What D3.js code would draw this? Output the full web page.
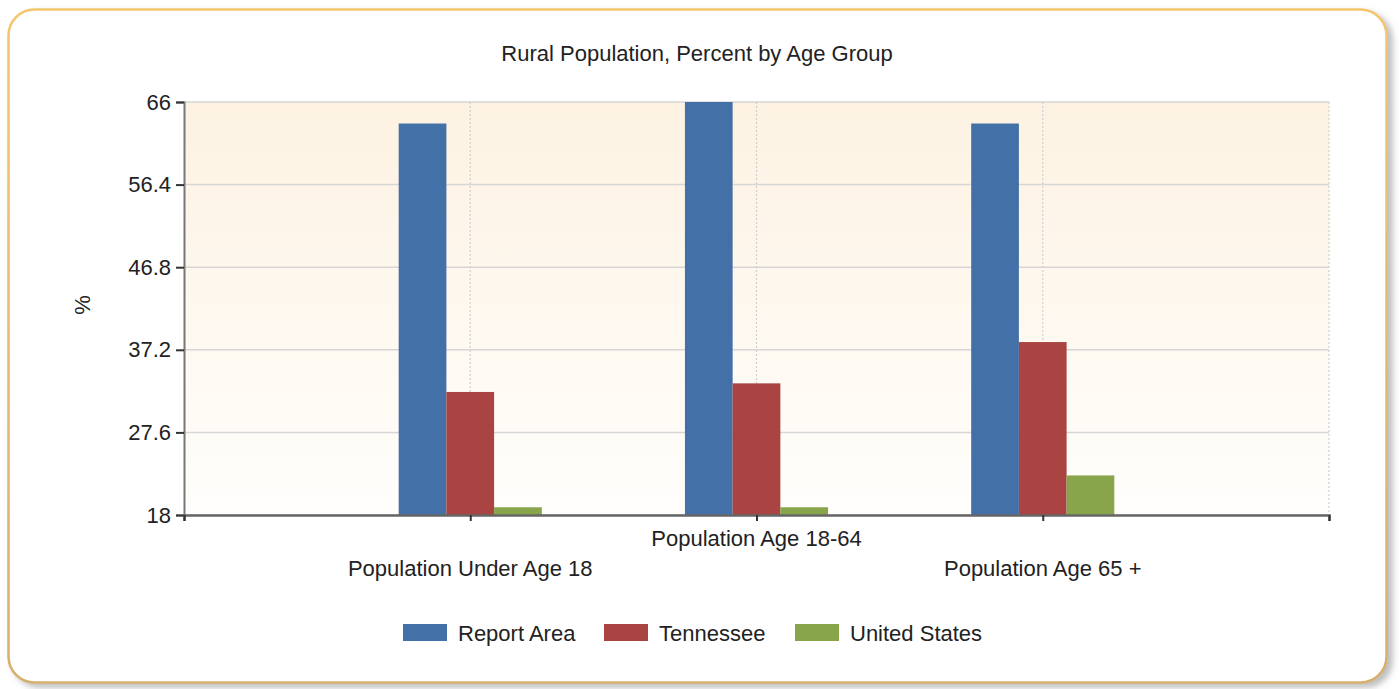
<!DOCTYPE html>
<html>
<head>
<meta charset="utf-8">
<script src="https://cdn.jsdelivr.net/npm/d3@7"></script>
<style>
  html, body { margin: 0; padding: 0; background: #ffffff; }
  svg { display: block; font-family: "Liberation Sans", Arial, sans-serif; }
</style>
</head>
<body>
<svg id="chart" width="1399" height="689"></svg>
<script>
const title = "Rural Population, Percent by Age Group";
const categories = ["Population Under Age 18", "Population Age 18-64", "Population Age 65 +"];
const seriesNames = ["Report Area", "Tennessee", "United States"];
const reportArea = [63.5, 66.0, 63.5];
const tennessee = [32.3, 33.3, 38.1];
const unitedStates = [18.9, 18.9, 22.6];
const yTicks = [18, 27.6, 37.2, 46.8, 56.4, 66];
const colors = ["#4470a8", "#a94442", "#88a54c"];
const yLabel = "%";

const seriesValues = [reportArea, tennessee, unitedStates];

const svg = d3.select("#chart");
const FS = 22;

// defs
const defs = svg.append("defs");
const bg = defs.append("linearGradient").attr("id", "plotBg").attr("x1", 0).attr("y1", 0).attr("x2", 0).attr("y2", 1);
bg.append("stop").attr("offset", "0%").attr("stop-color", "#fdf2e2");
bg.append("stop").attr("offset", "100%").attr("stop-color", "#fffefc");
const bd = defs.append("linearGradient").attr("id", "borderGrad").attr("x1", 0).attr("y1", 0).attr("x2", 0).attr("y2", 1);
bd.append("stop").attr("offset", "0%").attr("stop-color", "#f3c66e");
bd.append("stop").attr("offset", "100%").attr("stop-color", "#d6b06c");
const sh = defs.append("filter").attr("id", "shadow").attr("x", "-5%").attr("y", "-5%").attr("width", "110%").attr("height", "115%");
sh.append("feDropShadow").attr("dx", 5).attr("dy", 4).attr("stdDeviation", 3).attr("flood-color", "#888").attr("flood-opacity", 0.55);

// frame
svg.append("rect")
  .attr("x", 8.5).attr("y", 9.5).attr("width", 1378).attr("height", 673)
  .attr("rx", 26).attr("ry", 26)
  .attr("fill", "#ffffff")
  .attr("stroke", "url(#borderGrad)").attr("stroke-width", 2.5)
  .attr("filter", "url(#shadow)");

const plot = { left: 184, right: 1329, top: 102, bottom: 515 };

const y = d3.scaleLinear().domain([18, 66]).range([plot.bottom, plot.top]);
const x = d3.scaleLinear().domain([0, categories.length + 1]).range([plot.left, plot.right]);
const catW = x(1) - x(0);
const xb = d3.scaleBand().domain(d3.range(seriesNames.length)).range([-catW * 0.25, catW * 0.25]);

// plot background
svg.append("rect")
  .attr("x", plot.left).attr("y", plot.top)
  .attr("width", plot.right - plot.left).attr("height", plot.bottom - plot.top)
  .attr("fill", "url(#plotBg)");

// horizontal grid
svg.append("g").selectAll("line").data(yTicks).join("line")
  .attr("x1", plot.left).attr("x2", plot.right)
  .attr("y1", d => y(d)).attr("y2", d => y(d))
  .attr("stroke", "#d6d6d6").attr("stroke-width", 1.5);

// vertical grid (dotted)
const vgrid = d3.range(1, categories.length + 2);
svg.append("g").selectAll("line").data(vgrid).join("line")
  .attr("x1", d => x(d)).attr("x2", d => x(d))
  .attr("y1", plot.top).attr("y2", plot.bottom)
  .attr("stroke", "#cfcfcf").attr("stroke-width", 1.2).attr("stroke-dasharray", "2,2");

// bars
const groups = svg.append("g").selectAll("g").data(categories).join("g")
  .attr("transform", (d, i) => `translate(${x(i + 1)},0)`);
groups.selectAll("rect").data((d, i) => seriesValues.map((s, k) => ({ k, v: s[i] }))).join("rect")
  .attr("x", d => xb(d.k))
  .attr("width", xb.bandwidth())
  .attr("y", d => y(d.v))
  .attr("height", d => y(18) - y(d.v))
  .attr("fill", d => colors[d.k]);

// y axis
const yAxis = svg.append("g").attr("transform", `translate(${plot.left},0)`)
  .call(d3.axisLeft(y).tickValues(yTicks).tickSize(8).tickPadding(5).tickFormat(d => d3.format("")(d)));
yAxis.select(".domain").attr("stroke", "#777").attr("stroke-width", 2);
yAxis.selectAll(".tick line").attr("stroke", "#333").attr("stroke-width", 2);
yAxis.selectAll("text").attr("font-size", FS).attr("fill", "#222")
  .attr("font-family", "\"Liberation Sans\", Arial, sans-serif");

// x axis
const xAxis = svg.append("g").attr("transform", `translate(0,${plot.bottom})`)
  .call(d3.axisBottom(x).tickValues(d3.range(0, categories.length + 2)).tickSize(6).tickFormat(""));
xAxis.select(".domain").attr("stroke", "#666").attr("stroke-width", 2.5);
xAxis.selectAll(".tick line").attr("stroke", "#333").attr("stroke-width", 2);

// category labels (staggered)
svg.append("g").selectAll("text").data(categories).join("text")
  .attr("x", (d, i) => x(i + 1))
  .attr("y", (d, i) => (i % 2 === 0 ? 576 : 546))
  .attr("text-anchor", "middle")
  .attr("font-size", FS).attr("fill", "#222")
  .text(d => d);

// title
svg.append("text").attr("x", 697).attr("y", 61).attr("text-anchor", "middle")
  .attr("font-size", FS).attr("fill", "#222").text(title);

// y label
svg.append("text").attr("transform", "translate(90,305) rotate(-90)")
  .attr("text-anchor", "middle").attr("font-size", FS).attr("fill", "#222").text(yLabel);

// legend
const legendX = [403, 604, 795];
const lg = svg.append("g").selectAll("g").data(seriesNames).join("g")
  .attr("transform", (d, i) => `translate(${legendX[i]},624)`);
lg.append("rect").attr("width", 44).attr("height", 17).attr("fill", (d, i) => colors[i]);
lg.append("text").attr("x", 55).attr("y", 17).attr("font-size", FS).attr("fill", "#222").text(d => d);
</script>
</body>
</html>
